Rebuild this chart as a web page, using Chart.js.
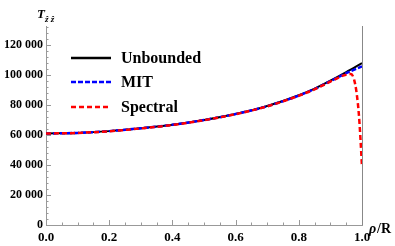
<!DOCTYPE html>
<html lang="en">

<head>
    <meta charset="UTF-8">
    <title>T_zz vs rho/R</title>
    <script src="https://cdn.jsdelivr.net/npm/chart.js"></script>
</head>
<style>
    body {
        margin: 0;
        background: #fff;
    }

    .container {
        width: 395px;
        height: 246px;
    }
</style>

<body>
    <div class="container">
        <canvas id="GraficoTzz"></canvas>
    </div>
</body>

</html>

<script>
    // valores
    const rho = [0, 0.1, 0.2, 0.3, 0.4, 0.5, 0.6, 0.7, 0.8, 0.85, 0.9, 0.95, 1.0];
    const unbounded = [61000, 61400, 62600, 64500, 66800, 70000, 74000, 79300, 86500, 91000, 96300, 102000, 108000];
    const mit = [61000, 61400, 62600, 64500, 66800, 70000, 74000, 79200, 86300, 90700, 95900, 101200, 105800];

    const rhoSpectral = [0, 0.1, 0.2, 0.3, 0.4, 0.5, 0.6, 0.7, 0.8, 0.85, 0.9, 0.94, 0.965, 0.975, 0.983, 0.99, 0.995, 1.0];
    const spectral = [61000, 61400, 62500, 64400, 66700, 69900, 73900, 79100, 86200, 90500, 95600, 99600, 100700, 97000, 88000, 74000, 58000, 38700];

    const legendLabels = ['Unbounded', 'MIT', 'Spectral'];
    const yTicks = [0, 20000, 40000, 60000, 80000, 100000, 120000];
    const xTicks = [0, 0.2, 0.4, 0.6, 0.8, 1.0];

    function pares(xs, ys) {
        return xs.map((x, i) => ({ x: x, y: ys[i] }));
    }

    // marcas de escala para dentro, linha em rho = 1, legenda e rótulos
    const extras = {
        id: 'extras',
        afterDraw(chart) {
            const ctx = chart.ctx;
            const xs = chart.scales.x;
            const ys = chart.scales.y;
            const area = chart.chartArea;
            ctx.save();
            ctx.strokeStyle = '#999';
            ctx.lineWidth = 1;
            for (let v = 0; v <= 132000; v += 4000) {
                const py = Math.round(ys.getPixelForValue(v)) + 0.5;
                const len = v % 20000 === 0 ? 5 : 2.5;
                ctx.beginPath();
                ctx.moveTo(area.left, py);
                ctx.lineTo(area.left + len, py);
                ctx.stroke();
            }
            for (let i = 0; i <= 20; i++) {
                const px = Math.round(xs.getPixelForValue(i * 0.05)) + 0.5;
                const len = i % 4 === 0 ? 5 : 2.5;
                ctx.beginPath();
                ctx.moveTo(px, area.bottom);
                ctx.lineTo(px, area.bottom - len);
                ctx.stroke();
            }
            // linha vertical em rho/R = 1
            const x1 = Math.round(xs.getPixelForValue(1)) + 0.5;
            ctx.strokeStyle = '#888';
            ctx.beginPath();
            ctx.moveTo(x1, area.top);
            ctx.lineTo(x1, area.bottom);
            ctx.stroke();

            // legenda
            const ds = chart.data.datasets;
            const ly = [58, 82, 107];
            ds.forEach((d, i) => {
                ctx.strokeStyle = d.borderColor;
                ctx.lineWidth = 2.5;
                ctx.setLineDash(d.borderDash || []);
                ctx.beginPath();
                ctx.moveTo(71, ly[i]);
                ctx.lineTo(111, ly[i]);
                ctx.stroke();
                ctx.setLineDash([]);
                ctx.fillStyle = '#000';
                ctx.font = 'bold 16px "Liberation Serif"';
                ctx.textBaseline = 'middle';
                ctx.fillText(d.label, 121, ly[i] + 1);
            });

            // rótulos dos eixos
            ctx.fillStyle = '#000';
            ctx.textBaseline = 'alphabetic';
            ctx.font = 'italic bold 13px "Liberation Serif"';
            ctx.fillText('T', 37, 18);
            ctx.font = 'italic bold 9px "Liberation Serif"';
            ctx.fillText('ẑ ẑ', 45, 22);
            ctx.font = 'italic bold 14px "Liberation Serif"';
            ctx.fillText('ρ', 369, 233);
            ctx.font = 'bold 14px "Liberation Serif"';
            ctx.fillText('/R', 377, 233);
            ctx.restore();
        }
    };

    var grafico = document.getElementById('GraficoTzz');
    var lineChart = new Chart(grafico, {
        type: 'line',
        data: {
            datasets: [{
                label: legendLabels[0],
                data: pares(rho, unbounded),
                borderColor: '#000000',
                borderWidth: 2,
                order: 2
            }, {
                label: legendLabels[1],
                data: pares(rho, mit),
                borderColor: '#0000ff',
                borderWidth: 2.5,
                borderDash: [5, 2],
                order: 1
            }, {
                label: legendLabels[2],
                data: pares(rhoSpectral, spectral),
                borderColor: '#ff0000',
                borderWidth: 2.5,
                borderDash: [5, 3],
                order: 0
            }]
        },
        options: {
            responsive: true,
            maintainAspectRatio: false,
            animation: false,
            layout: {
                padding: { top: 26, right: 33, left: 0, bottom: 0 }
            },
            elements: {
                point: { radius: 0 },
                line: { tension: 0.4, cubicInterpolationMode: 'monotone', fill: false }
            },
            plugins: {
                legend: { display: false },
                tooltip: { enabled: false }
            },
            scales: {
                x: {
                    type: 'linear',
                    min: 0,
                    max: 1,
                    afterBuildTicks: (s) => { s.ticks = xTicks.map(v => ({ value: v })); },
                    afterFit: (s) => { s.height = 21; },
                    grid: { display: false, drawTicks: false },
                    border: { color: '#999', width: 1 },
                    ticks: {
                        padding: 5,
                        color: '#000',
                        font: { family: '"Liberation Serif", serif', weight: 'bold', size: 13 },
                        callback: (v) => v.toFixed(1)
                    }
                },
                y: {
                    type: 'linear',
                    min: 0,
                    max: 132700,
                    afterBuildTicks: (s) => { s.ticks = yTicks.map(v => ({ value: v })); },
                    afterFit: (s) => { s.width = 46; },
                    grid: { display: false, drawTicks: false },
                    border: { color: '#999', width: 1 },
                    ticks: {
                        padding: 3,
                        color: '#000',
                        font: { family: '"Liberation Serif", serif', weight: 'bold', size: 12 },
                        callback: (v) => v === 0 ? '0' : String(v).replace(/(\d)(?=(\d{3})+$)/g, '$1 ')
                    }
                }
            }
        },
        plugins: [extras]
    });
</script>
